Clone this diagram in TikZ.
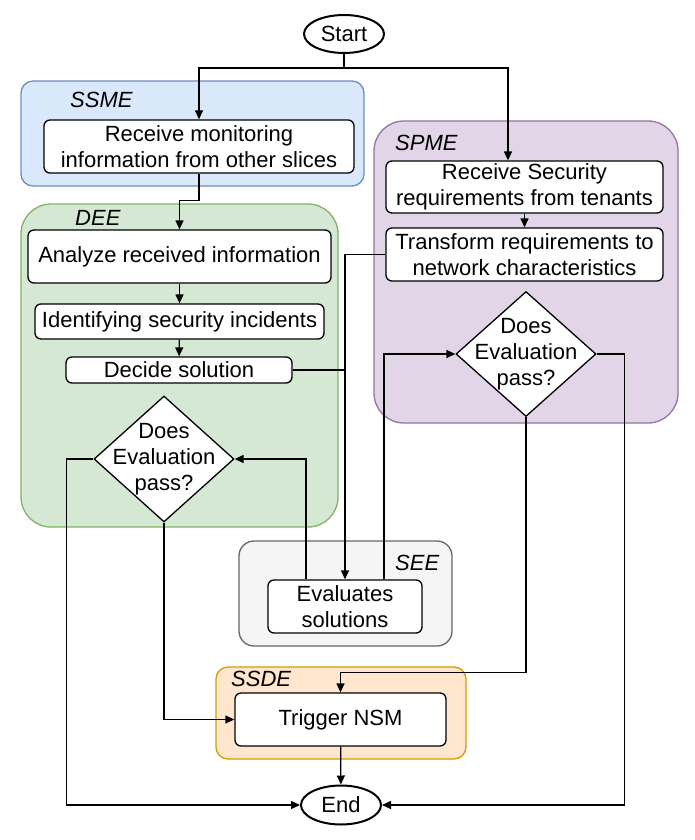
\documentclass[tikz,border=0pt]{standalone}
\usepackage{fontspec}
\setmainfont{Liberation Sans}
\usetikzlibrary{shapes.geometric,arrows.meta}
\definecolor{ssmefill}{HTML}{DAE8FC}\definecolor{ssmedraw}{HTML}{6C8EBF}
\definecolor{deefill}{HTML}{D5E8D4}\definecolor{deedraw}{HTML}{82B366}
\definecolor{spmefill}{HTML}{E1D5E7}\definecolor{spmedraw}{HTML}{9673A6}
\definecolor{seefill}{HTML}{F5F5F5}\definecolor{seedraw}{HTML}{666666}
\definecolor{ssdefill}{HTML}{FFE6CC}\definecolor{ssdedraw}{HTML}{D79B00}
\begin{document}
\begin{tikzpicture}[x=1pt,y=-1pt,
  font=\fontsize{22}{26}\selectfont,
  box/.style={draw=black, fill=white, rounded corners=6pt, line width=1.3pt, align=center, inner sep=0pt},
  group/.style={rectangle, line width=1.3pt, inner sep=0pt},
  term/.style={ellipse, draw=black, line width=2pt, fill=white, inner sep=0pt},
  dec/.style={diamond, draw=black, fill=white, line width=1.3pt, inner sep=0pt, minimum width=140pt, minimum height=126pt},
  arr/.style={line width=1.3pt, -{Triangle[length=9pt,width=8pt]}},
  conn/.style={line width=1.3pt},
  glabel/.style={font=\fontsize{22}{26}\selectfont\itshape, anchor=west, inner sep=0pt}
]
\useasboundingbox (0,0) rectangle (694,840);
\fill[white] (0,0) rectangle (694,840);

% containers
\node[group, draw=ssmedraw, fill=ssmefill, rounded corners=12pt, minimum width=343pt, minimum height=105pt] (gssme) at (192.5,133.5) {};
\node[group, draw=deedraw, fill=deefill, rounded corners=30pt, minimum width=317pt, minimum height=323pt] (gdee) at (179.5,365.5) {};
\node[group, draw=spmedraw, fill=spmefill, rounded corners=30pt, minimum width=304pt, minimum height=302pt] (gspme) at (526,272) {};
\node[group, draw=seedraw, fill=seefill, rounded corners=15pt, minimum width=213pt, minimum height=105pt] (gsee) at (345.5,593.5) {};
\node[group, draw=ssdedraw, fill=ssdefill, rounded corners=12pt, minimum width=250pt, minimum height=92pt] (gssde) at (341,713) {};

% container labels
\node[glabel] (lssme) at (70,100) {SSME};
\node[glabel] (ldee) at (75,218) {DEE};
\node[glabel] (lspme) at (395,143) {SPME};
\node[glabel] (lsee) at (395,563) {SEE};
\node[glabel] (lssde) at (231,679) {SSDE};

% terminals
\node[term, minimum width=80pt, minimum height=38pt] (start) at (344,34) {Start};
\node[term, minimum width=80pt, minimum height=39pt] (end) at (341,805) {End};

% process boxes
\node[box, minimum width=310pt, minimum height=53pt] (recv) at (199,146.5) {Receive monitoring\\information from other slices};
\node[box, minimum width=303pt, minimum height=53pt] (analyze) at (179.5,256.5) {Analyze received information};
\node[box, minimum width=289pt, minimum height=35pt] (ident) at (179.5,321.5) {Identifying security incidents};
\node[box, minimum width=226pt, minimum height=26pt] (decide) at (179,370) {Decide solution};
\node[box, minimum width=277pt, minimum height=52pt] (recvsec) at (524.5,187) {Receive Security\\requirements from tenants};
\node[box, minimum width=277pt, minimum height=53pt] (transform) at (524.5,254.5) {Transform requirements to\\network characteristics};
\node[box, minimum width=154pt, minimum height=53pt] (evaluates) at (345,606.5) {Evaluates\\solutions};
\node[box, minimum width=211pt, minimum height=53pt] (trigger) at (340.5,719.5) {Trigger NSM};

% decisions
\node[dec, label={[align=center, inner sep=0pt]center:Does\\Evaluation\\pass?}] (ddee) at (164,459) {};
\node[dec, minimum height=125pt, label={[align=center, inner sep=0pt]center:Does\\Evaluation\\pass?}] (dspme) at (526,354) {};

% connectors
\coordinate (split) at (344,68);
\draw[conn] (start.south) -- (split);
\draw[arr] (split) -| (recv.north);
\draw[arr] (split) -| ([xshift=-16.5pt]recvsec.north);
\draw[arr] (recv.south) -- ++(0,27) -| (analyze.north);
\draw[arr] (analyze) -- (ident);
\draw[arr] (ident) -- (decide);
\draw[arr] (recvsec) -- (transform);
\draw[arr] (transform.west) -| (evaluates.north);
\draw[conn] (decide.east) -- (decide.east -| evaluates.north);
\draw[arr] ([xshift=-39pt]evaluates.north) |- (ddee.east);
\draw[arr] ([xshift=39pt]evaluates.north) |- (dspme.west);
\draw[arr] (dspme.east) -- ++(28,0) |- (end.east);
\draw[arr] (ddee.west) -- ++(-27,0) |- (end.west);
\draw[arr] (dspme.south) -- ++(0,255) -| (trigger.north);
\draw[arr] (ddee.south) |- (trigger.west);
\draw[arr] (trigger) -- (end);
\end{tikzpicture}
\end{document}
